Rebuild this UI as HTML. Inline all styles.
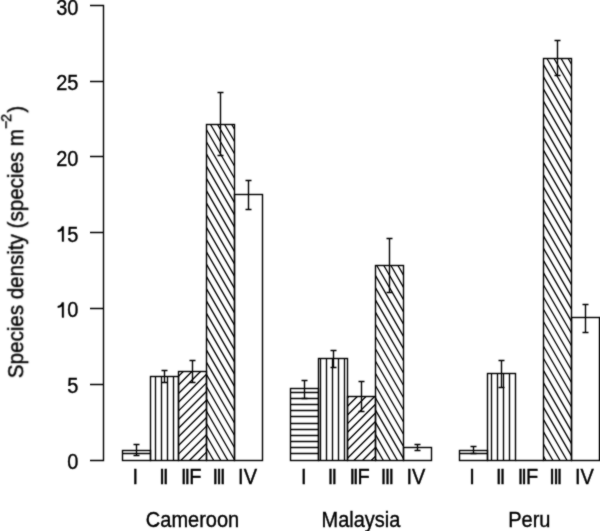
<!DOCTYPE html>
<html><head><meta charset="utf-8"><style>
html,body{margin:0;padding:0;background:#fff;overflow:hidden;}
svg{display:block;filter:grayscale(1);}
</style></head><body>
<svg width="600" height="531" viewBox="0 0 600 531">
<defs><filter id="bl" x="0" y="0" width="100%" height="100%" filterUnits="userSpaceOnUse"><feConvolveMatrix order="3" kernelMatrix="1 2 1 2 16 2 1 2 1" edgeMode="duplicate" preserveAlpha="false"/></filter></defs>
<rect width="600" height="531" fill="#fff"/>
<g filter="url(#bl)">
<path d="M122.50 453.50L150.50 453.50 M155.50 376.50L155.50 460.50 M161.50 376.50L161.50 460.50 M167.50 376.50L167.50 460.50 M173.50 376.50L173.50 460.50 M178.50 376.25L183.25 371.50 M178.50 384.90L191.90 371.50 M178.50 393.56L200.56 371.50 M178.50 402.21L206.50 374.21 M178.50 410.87L206.50 382.87 M178.50 419.52L206.50 391.52 M178.50 428.18L206.50 400.18 M178.50 436.83L206.50 408.83 M178.50 445.49L206.50 417.49 M178.50 454.14L206.50 426.14 M180.80 460.50L206.50 434.80 M189.45 460.50L206.50 443.45 M198.11 460.50L206.50 452.11 M206.67 460.50L206.50 460.21 M213.74 460.50L206.50 447.97 M220.80 460.50L206.50 435.73 M227.87 460.50L206.50 423.49 M234.50 459.75L206.50 411.25 M234.50 447.51L206.50 399.01 M234.50 435.27L206.50 386.77 M234.50 423.03L206.50 374.53 M234.50 410.79L206.50 362.29 M234.50 398.55L206.50 350.05 M234.50 386.31L206.50 337.81 M234.50 374.07L206.50 325.57 M234.50 361.83L206.50 313.33 M234.50 349.59L206.50 301.09 M234.50 337.35L206.50 288.85 M234.50 325.11L206.50 276.61 M234.50 312.87L206.50 264.37 M234.50 300.63L206.50 252.13 M234.50 288.39L206.50 239.89 M234.50 276.15L206.50 227.65 M234.50 263.91L206.50 215.41 M234.50 251.67L206.50 203.17 M234.50 239.43L206.50 190.93 M234.50 227.19L206.50 178.69 M234.50 214.95L206.50 166.45 M234.50 202.71L206.50 154.21 M234.50 190.47L206.50 141.97 M234.50 178.23L206.50 129.73 M234.50 165.99L210.55 124.50 M234.50 153.75L217.61 124.50 M234.50 141.51L224.68 124.50 M234.50 129.27L231.75 124.50 M290.50 453.50L318.50 453.50 M290.50 447.50L318.50 447.50 M290.50 441.50L318.50 441.50 M290.50 435.50L318.50 435.50 M290.50 429.50L318.50 429.50 M290.50 423.50L318.50 423.50 M290.50 416.50L318.50 416.50 M290.50 410.50L318.50 410.50 M290.50 404.50L318.50 404.50 M290.50 398.50L318.50 398.50 M290.50 392.50L318.50 392.50 M320.50 358.50L320.50 460.50 M326.50 358.50L326.50 460.50 M332.50 358.50L332.50 460.50 M338.50 358.50L338.50 460.50 M344.50 358.50L344.50 460.50 M347.50 397.66L348.66 396.50 M347.50 406.31L357.31 396.50 M347.50 414.97L365.97 396.50 M347.50 423.62L374.62 396.50 M347.50 432.28L375.50 404.28 M347.50 440.93L375.50 412.93 M347.50 449.59L375.50 421.59 M347.50 458.24L375.50 430.24 M353.90 460.50L375.50 438.90 M362.55 460.50L375.50 447.55 M371.21 460.50L375.50 456.21 M376.27 460.50L375.50 459.17 M383.34 460.50L375.50 446.93 M390.40 460.50L375.50 434.69 M397.47 460.50L375.50 422.45 M403.50 458.70L375.50 410.21 M403.50 446.46L375.50 397.97 M403.50 434.22L375.50 385.73 M403.50 421.98L375.50 373.49 M403.50 409.74L375.50 361.25 M403.50 397.50L375.50 349.01 M403.50 385.26L375.50 336.77 M403.50 373.02L375.50 324.53 M403.50 360.78L375.50 312.29 M403.50 348.54L375.50 300.05 M403.50 336.30L375.50 287.81 M403.50 324.06L375.50 275.57 M403.50 311.82L376.76 265.50 M403.50 299.58L383.82 265.50 M403.50 287.34L390.89 265.50 M403.50 275.10L397.96 265.50 M459.50 453.50L487.50 453.50 M491.50 373.50L491.50 460.50 M497.50 373.50L497.50 460.50 M503.50 373.50L503.50 460.50 M509.50 373.50L509.50 460.50 M545.87 460.50L543.50 456.39 M552.94 460.50L543.50 444.15 M560.01 460.50L543.50 431.91 M567.07 460.50L543.50 419.67 M571.50 455.93L543.50 407.43 M571.50 443.69L543.50 395.19 M571.50 431.45L543.50 382.95 M571.50 419.21L543.50 370.71 M571.50 406.97L543.50 358.47 M571.50 394.73L543.50 346.23 M571.50 382.49L543.50 333.99 M571.50 370.25L543.50 321.75 M571.50 358.01L543.50 309.51 M571.50 345.77L543.50 297.27 M571.50 333.53L543.50 285.03 M571.50 321.29L543.50 272.79 M571.50 309.05L543.50 260.55 M571.50 296.81L543.50 248.31 M571.50 284.57L543.50 236.07 M571.50 272.33L543.50 223.83 M571.50 260.09L543.50 211.59 M571.50 247.85L543.50 199.35 M571.50 235.61L543.50 187.11 M571.50 223.37L543.50 174.87 M571.50 211.13L543.50 162.63 M571.50 198.89L543.50 150.39 M571.50 186.65L543.50 138.15 M571.50 174.41L543.50 125.91 M571.50 162.17L543.50 113.67 M571.50 149.93L543.50 101.43 M571.50 137.69L543.50 89.19 M571.50 125.45L543.50 76.95 M571.50 113.21L543.50 64.71 M571.50 100.97L546.98 58.50 M571.50 88.73L554.05 58.50 M571.50 76.49L561.12 58.50 M571.50 64.25L568.18 58.50" stroke="#000" stroke-width="1.35" fill="none"/>
<g fill="none" stroke="#000" stroke-width="1.4"><rect x="122.50" y="450.50" width="28.00" height="10.00"/><rect x="150.50" y="376.50" width="28.00" height="84.00"/><rect x="178.50" y="371.50" width="28.00" height="89.00"/><rect x="206.50" y="124.50" width="28.00" height="336.00"/><rect x="234.50" y="194.50" width="28.00" height="266.00"/><rect x="290.50" y="388.50" width="28.00" height="72.00"/><rect x="318.50" y="358.50" width="29.00" height="102.00"/><rect x="347.50" y="396.50" width="28.00" height="64.00"/><rect x="375.50" y="265.50" width="28.00" height="195.00"/><rect x="403.50" y="447.50" width="28.00" height="13.00"/><rect x="459.50" y="450.50" width="28.00" height="10.00"/><rect x="487.50" y="373.50" width="28.00" height="87.00"/><path d="M515.50 460.50H543.50"/><rect x="543.50" y="58.50" width="28.00" height="402.00"/><rect x="571.50" y="317.50" width="28.00" height="143.00"/></g>
<path d="M136.50 444.50V455.50M133.50 444.50H139.50M133.50 455.50H139.50 M164.50 370.50V382.50M161.50 370.50H167.50M161.50 382.50H167.50 M192.50 360.50V382.50M189.50 360.50H195.50M189.50 382.50H195.50 M220.50 92.50V155.50M217.50 92.50H223.50M217.50 155.50H223.50 M248.50 180.50V209.50M245.50 180.50H251.50M245.50 209.50H251.50 M304.50 380.50V398.50M301.50 380.50H307.50M301.50 398.50H307.50 M333.50 350.50V367.50M330.50 350.50H336.50M330.50 367.50H336.50 M361.50 381.50V411.50M358.50 381.50H364.50M358.50 411.50H364.50 M389.50 238.50V292.50M386.50 238.50H392.50M386.50 292.50H392.50 M417.50 444.50V450.50M414.50 444.50H420.50M414.50 450.50H420.50 M473.50 446.50V453.50M470.50 446.50H476.50M470.50 453.50H476.50 M501.50 360.50V387.50M498.50 360.50H504.50M498.50 387.50H504.50 M557.50 40.50V75.50M554.50 40.50H560.50M554.50 75.50H560.50 M585.50 304.50V332.50M582.50 304.50H588.50M582.50 332.50H588.50" stroke="#000" stroke-width="1.4" fill="none"/>
<path d="M103.5 4.80V461.20M90 460.50H103.5M90 384.50H103.5M90 308.50H103.5M90 232.50H103.5M90 156.50H103.5M90 81.50H103.5M90 5.50H103.5" stroke="#000" stroke-width="1.4" fill="none"/>
<g font-family="Liberation Sans, sans-serif" font-size="20" fill="#000" stroke="#000" stroke-width="0.35">
<g transform="translate(78.5 468.70) scale(1 1.09)"><text text-anchor="end">0</text></g>
<g transform="translate(78.5 393.30) scale(1 1.09)"><text text-anchor="end">5</text></g>
<g transform="translate(78.5 317.40) scale(1 1.09)"><text text-anchor="end">0</text><path transform="translate(-22.24 0) scale(0.009766 -0.009766)" d="M770 0H590V1040C480 960 320 930 160 915V1065C360 1090 510 1200 575 1409H770Z" stroke-width="35.8"/></g>
<g transform="translate(78.5 241.50) scale(1 1.09)"><text text-anchor="end">5</text><path transform="translate(-22.24 0) scale(0.009766 -0.009766)" d="M770 0H590V1040C480 960 320 930 160 915V1065C360 1090 510 1200 575 1409H770Z" stroke-width="35.8"/></g>
<g transform="translate(78.5 165.60) scale(1 1.09)"><text text-anchor="end">20</text></g>
<g transform="translate(78.5 89.70) scale(1 1.09)"><text text-anchor="end">25</text></g>
<g transform="translate(78.5 14.80) scale(1 1.09)"><text text-anchor="end">30</text></g>
<g transform="translate(0 483.5) scale(1 1.09)"><text x="132.52" y="0">I</text></g>
<g transform="translate(0 483.5) scale(1 1.09)"><text x="159.29 162.99" y="0">II</text></g>
<g transform="translate(0 483.5) scale(1 1.09)"><text x="181.01 184.51 189.17" y="0">IIF</text></g>
<g transform="translate(0 483.5) scale(1 1.09)"><text x="212.48 216.33 220.03" y="0">III</text></g>
<g transform="translate(0 483.5) scale(1 1.09)"><text x="238.09 243.65" y="0">IV</text></g>
<g transform="translate(192.54 526.5) scale(1 1.09)"><text text-anchor="middle">Cameroon</text></g>
<g transform="translate(0 483.5) scale(1 1.09)"><text x="300.93" y="0">I</text></g>
<g transform="translate(0 483.5) scale(1 1.09)"><text x="327.70 331.40" y="0">II</text></g>
<g transform="translate(0 483.5) scale(1 1.09)"><text x="349.42 352.92 357.58" y="0">IIF</text></g>
<g transform="translate(0 483.5) scale(1 1.09)"><text x="380.88 384.73 388.43" y="0">III</text></g>
<g transform="translate(0 483.5) scale(1 1.09)"><text x="406.50 412.06" y="0">IV</text></g>
<g transform="translate(360.95 526.5) scale(1 1.09)"><text text-anchor="middle">Malaysia</text></g>
<g transform="translate(0 483.5) scale(1 1.09)"><text x="469.34" y="0">I</text></g>
<g transform="translate(0 483.5) scale(1 1.09)"><text x="496.11 499.81" y="0">II</text></g>
<g transform="translate(0 483.5) scale(1 1.09)"><text x="517.82 521.32 525.98" y="0">IIF</text></g>
<g transform="translate(0 483.5) scale(1 1.09)"><text x="549.29 553.14 556.84" y="0">III</text></g>
<g transform="translate(0 483.5) scale(1 1.09)"><text x="574.91 580.47" y="0">IV</text></g>
<g transform="translate(529.35 526.5) scale(1 1.09)"><text text-anchor="middle">Peru</text></g>
<text transform="translate(23.4 378.2) rotate(-90) scale(1.029 1.087)">Species density (species m<tspan font-size="14" dy="-11.5">−</tspan><tspan font-size="14" dx="-1.4">2</tspan><tspan dy="11.5" dx="1.2">)</tspan></text>
</g></g></svg>
</body></html>
